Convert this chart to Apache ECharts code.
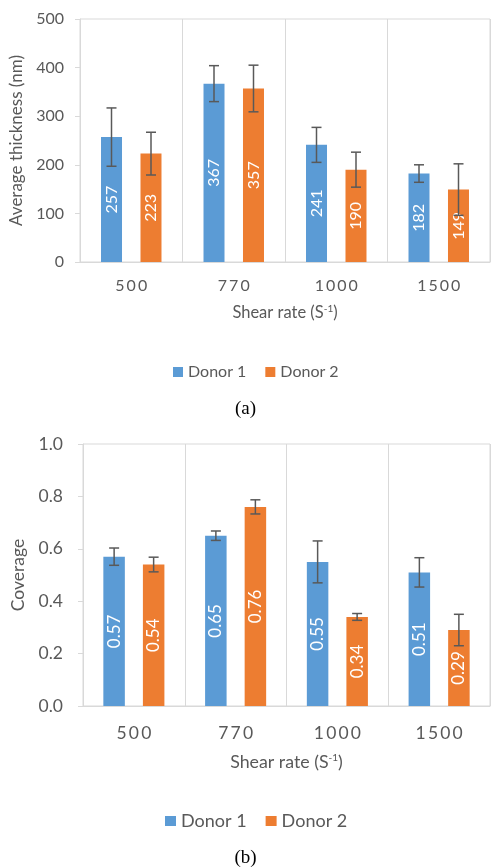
<!DOCTYPE html>
<html>
<head>
<meta charset="utf-8">
<script src="https://cdn.jsdelivr.net/npm/echarts@6/dist/echarts.min.js"></script>
<style>
  html, body { margin: 0; padding: 0; background: #fff; }
  #chart { width: 491px; height: 867px; }
</style>
</head>
<body>
<div id="chart"></div>
<script>
// data
var shearRates = ['500', '770', '1000', '1500'];
var thicknessDonor1 = [257, 367, 241, 182];
var thicknessDonor2 = [223, 357, 190, 149];
var thicknessErr1 = [60, 37, 36, 18];
var thicknessErr2 = [44, 48, 36, 53];
var coverageDonor1 = [0.57, 0.65, 0.55, 0.51];
var coverageDonor2 = [0.54, 0.76, 0.34, 0.29];
var coverageErr1 = [0.033, 0.018, 0.08, 0.056];
var coverageErr2 = [0.028, 0.027, 0.013, 0.06];

var BLUE = '#5b9bd5', ORANGE = '#ed7d31', GRAY = '#595959', LINE = '#d9d9d9';
var FONT = 'Lato';

function errData(vals, errs) {
  return vals.map(function (v, i) { return [i, v - errs[i], v + errs[i]]; });
}

// draws one error bar, shifted sideways onto its bar
function errorRenderer(offset) {
  return function (params, api) {
    var i = api.value(0);
    var lo = api.coord([i, api.value(1)]);
    var hi = api.coord([i, api.value(2)]);
    var x = lo[0] + offset;
    var st = { stroke: GRAY, lineWidth: 1.5 };
    return {
      type: 'group',
      children: [
        { type: 'line', shape: { x1: x, y1: lo[1], x2: x, y2: hi[1] }, style: st },
        { type: 'line', shape: { x1: x - 5, y1: lo[1], x2: x + 5, y2: lo[1] }, style: st },
        { type: 'line', shape: { x1: x - 5, y1: hi[1], x2: x + 5, y2: hi[1] }, style: st }
      ]
    };
  };
}

function spaced(v) { return v.split('').join('\u2009'); }

function xAxisFor(idx, fs, margin, gap, nameFs) {
  return {
    type: 'category', gridIndex: idx, data: shearRates,
    axisLine: { lineStyle: { color: LINE } },
    axisTick: { show: false },
    splitLine: { show: true, lineStyle: { color: LINE } },
    axisLabel: { color: GRAY, fontFamily: FONT, fontSize: fs, margin: margin, formatter: spaced },
    name: 'Shear rate (S{sup|-1})', nameLocation: 'middle', nameGap: gap,
    nameTextStyle: {
      color: GRAY, fontFamily: FONT, fontSize: nameFs,
      rich: { sup: { color: GRAY, fontFamily: FONT, fontSize: 10, padding: [0, 0, 8, 0] } }
    }
  };
}

function barSeries(name, data, axis, color, width, gap, fs) {
  return {
    name: name, type: 'bar', xAxisIndex: axis, yAxisIndex: axis, data: data,
    barWidth: width, barGap: gap,
    itemStyle: { color: color },
    label: { show: true, position: 'inside', rotate: 90, color: '#fff', fontFamily: FONT, fontSize: fs }
  };
}

function errSeries(data, axis, offset) {
  return {
    type: 'custom', xAxisIndex: axis, yAxisIndex: axis, data: data,
    encode: { x: 0, y: [1, 2] }, renderItem: errorRenderer(offset), z: 3, silent: true
  };
}

var chart = echarts.init(document.getElementById('chart'));
chart.setOption({
  animation: false,
  backgroundColor: '#fff',
  grid: [
    { left: 80, top: 19, width: 410, height: 243, show: true, borderColor: LINE, borderWidth: 1 },
    { left: 83, top: 444, width: 407, height: 262, show: true, borderColor: LINE, borderWidth: 1 }
  ],
  legend: [
    { left: 168, top: 359, itemWidth: 10, itemHeight: 10, itemGap: 19, icon: 'rect',
      data: ['Donor 1', 'Donor 2'], textStyle: { color: GRAY, fontFamily: FONT, fontSize: 16 } },
    { left: 160, top: 807, itemWidth: 11, itemHeight: 10, itemGap: 19, icon: 'rect',
      data: ['Donor 1', 'Donor 2'], textStyle: { color: GRAY, fontFamily: FONT, fontSize: 18 } }
  ],
  xAxis: [
    xAxisFor(0, 16, 16, 42, 16.5),
    xAxisFor(1, 17.5, 18, 47, 17.8)
  ],
  yAxis: [
    { type: 'value', gridIndex: 0, min: 0, max: 500, interval: 100,
      axisLine: { show: true, lineStyle: { color: LINE } },
      axisTick: { show: true, length: 5, lineStyle: { color: LINE } },
      splitLine: { show: false },
      axisLabel: { color: GRAY, fontFamily: FONT, fontSize: 16, margin: 16 },
      name: 'Average thickness (nm)', nameLocation: 'middle', nameGap: 52,
      nameTextStyle: { color: GRAY, fontFamily: FONT, fontSize: 17 } },
    { type: 'value', gridIndex: 1, min: 0, max: 1, interval: 0.2,
      axisLine: { show: true, lineStyle: { color: LINE } },
      axisTick: { show: true, length: 5, lineStyle: { color: LINE } },
      splitLine: { show: false },
      axisLabel: { color: GRAY, fontFamily: FONT, fontSize: 17.5, margin: 20,
        formatter: function (v) { return v.toFixed(1); } },
      name: 'Coverage', nameLocation: 'middle', nameGap: 55,
      nameTextStyle: { color: GRAY, fontFamily: FONT, fontSize: 17.5 } }
  ],
  graphic: [
    { type: 'text', left: 'center', top: 400,
      style: { text: '(a)', fill: '#000', font: '19px "Liberation Serif"' } },
    { type: 'text', left: 'center', top: 849,
      style: { text: '(b)', fill: '#000', font: '19px "Liberation Serif"' } }
  ],
  series: [
    barSeries('Donor 1', thicknessDonor1, 0, BLUE, 21, '88%', 16),
    barSeries('Donor 2', thicknessDonor2, 0, ORANGE, 21, '88%', 16),
    errSeries(errData(thicknessDonor1, thicknessErr1), 0, -19.75),
    errSeries(errData(thicknessDonor2, thicknessErr2), 0, 19.75),
    barSeries('Donor 1', coverageDonor1, 1, BLUE, 21.5, '84%', 17),
    barSeries('Donor 2', coverageDonor2, 1, ORANGE, 21.5, '84%', 17),
    errSeries(errData(coverageDonor1, coverageErr1), 1, -19.75),
    errSeries(errData(coverageDonor2, coverageErr2), 1, 19.75)
  ]
});
</script>
</body>
</html>
